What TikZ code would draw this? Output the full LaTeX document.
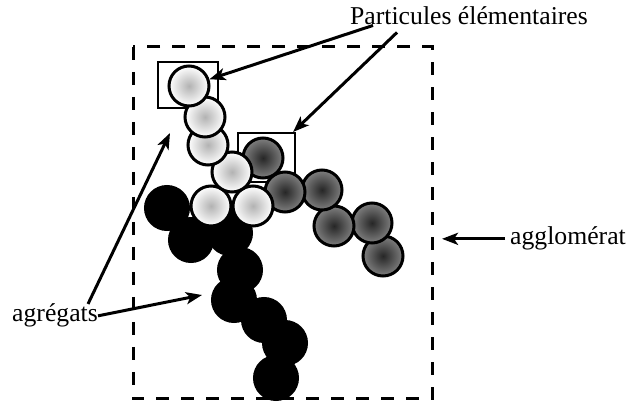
\documentclass[tikz,border=0pt]{standalone}
\usepackage{fontspec}
\setmainfont{Liberation Serif}
\usetikzlibrary{arrows.meta,positioning}

\begin{document}
\begin{tikzpicture}[x=1pt,y=-1pt,>={Stealth[length=16pt,width=12pt,inset=4pt]},
  lbl/.style={font=\fontsize{25.7}{30}\selectfont,inner sep=0pt,anchor=base west},
  arr/.style={->,line width=3pt},
  sq/.style={draw,line width=2pt,inner sep=0pt},
  part/.style={circle,draw,line width=3pt,minimum size=40pt,inner sep=0pt},
  lp/.style={part,inner color=black!30,outer color=white},
  dp/.style={part,inner color=black!85,outer color=black!50},
  bp/.style={part,fill=black,minimum size=43pt}]
  \useasboundingbox (0,0) rectangle (630,403);
  \draw[line width=3pt,dash pattern=on 13pt off 12pt] (133,47) rectangle (432,399);
  % cadres
  \node[sq,minimum width=60pt,minimum height=46pt] (s1) at (188,85) {};
  \node[sq,minimum width=57pt,minimum height=49pt] (s2) at (266.5,157.5) {};
  % agregat noir
  \foreach \n/\x/\y in {8/276/378,7/285/343,6/264/320,5/234/300,4/240/270,3/230/233,2/191/240,1/167/208}
    \node[bp] (b\n) at (\x,\y) {};
  % agregat gris fonce
  \foreach \n/\x/\y in {6/383/256,5/372/223,4/334/226,3/322/190,2/285/192,1/263/158}
    \node[dp] (d\n) at (\x,\y) {};
  % agregat clair
  \foreach \n/\x/\y in {6/253/206,5/211/206,4/232/172,3/208/145,2/205/117,1/189/86}
    \node[lp] (l\n) at (\x,\y) {};
  % textes
  \node[lbl] (pe) at (350,25) {Particules élémentaires};
  \node[lbl] (agr) at (12,322) {agrégats};
  \node[lbl] (agl) at (510,245) {agglomérat};
  \coordinate (ta) at (170,133);
  \coordinate (tb) at (202,295);
  \coordinate (tc) at (442,0);
  \draw[arr] ([xshift=23pt]pe.south west) -- (l1);
  \draw[arr] ([xshift=47pt,yshift=-7pt]pe.south west) -- (s2);
  \draw[arr] ([xshift=-10pt]agr.north east) -- (ta);
  \draw[arr] (agr.east) -- (tb);
  \draw[arr] ([xshift=-5pt]agl.west) -- (tc |- agl.west);
\end{tikzpicture}
\end{document}
